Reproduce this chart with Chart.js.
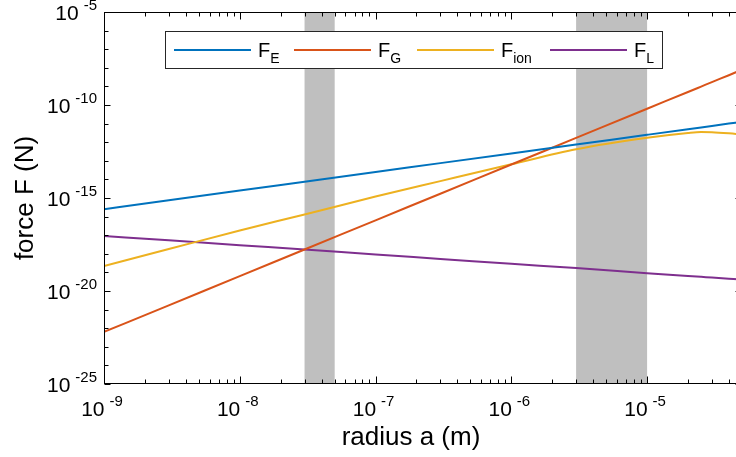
<!DOCTYPE html>
<html>
<head>
<meta charset="utf-8">
<script src="https://cdn.jsdelivr.net/npm/chart.js@4/dist/chart.umd.min.js"></script>
<style>
  html, body { margin: 0; padding: 0; background: #fff; overflow: hidden; }
  #wrap { width: 750px; height: 457px; }
</style>
</head>
<body>
<div id="wrap"><canvas id="grafico" width="750" height="457"></canvas></div>
<script>
// raios (m) onde as forças foram lidas
const raios = [1e-9, 3e-9, 1e-8, 3e-8, 1e-7, 3e-7, 1e-6, 3e-6, 1e-5, 2e-5, 2.5e-5, 3e-5, 4e-5, 5e-5];

// forças (N)
const forcaE   = [2.5e-16, 7.5e-16, 2.5e-15, 7.5e-15, 2.5e-14, 7.5e-14, 2.5e-13, 7.5e-13, 2.5e-12, 5.0e-12, 6.25e-12, 7.5e-12, 1.0e-11, 1.25e-11];
const forcaG   = [6.3e-23, 1.7e-21, 6.3e-20, 1.7e-18, 6.3e-17, 1.7e-15, 6.3e-14, 1.7e-12, 6.3e-11, 5.0e-10, 9.8e-10, 1.7e-9, 4.0e-9, 7.9e-9];
const forcaIon = [2.2e-19, 1.8e-18, 1.8e-17, 1.3e-16, 1.2e-15, 8.1e-15, 6.5e-14, 4.2e-13, 1.74e-12, 3.16e-12, 3.55e-12, 3.47e-12, 3.0e-12, 2.57e-12];
const forcaL   = [9.1e-18, 5.3e-18, 2.9e-18, 1.7e-18, 9.1e-19, 5.3e-19, 2.9e-19, 1.7e-19, 9.1e-20, 6.4e-20, 5.76e-20, 5.3e-20, 4.6e-20, 4.1e-20];

// faixas sombreadas em raio
const faixas = [[3e-8, 5e-8], [3e-6, 1e-5]];

// expoentes das marcas com rótulo
const expoentesX = [-9, -8, -7, -6, -5];
const expoentesY = [-25, -20, -15, -10, -5];

const series = [
    { nome: "F", sub: "E",   dados: forcaE,   cor: "#0072BD" },
    { nome: "F", sub: "G",   dados: forcaG,   cor: "#D95319" },
    { nome: "F", sub: "ion", dados: forcaIon, cor: "#EDB120" },
    { nome: "F", sub: "L",   dados: forcaL,   cor: "#7E2F8E" }
];

const fonte = '"Liberation Sans", Arial, Helvetica, sans-serif';

function escreverPotencia(ctx, x, y, expoente, alinhamento) {
    ctx.font = "21px " + fonte;
    let w10 = ctx.measureText("10").width;
    ctx.font = "15px " + fonte;
    let wExp = ctx.measureText(String(expoente)).width;
    let gap = 5;
    let total = w10 + gap + wExp;
    let inicio = alinhamento === "centro" ? x - total / 2 : x - total;
    ctx.textAlign = "left";
    ctx.textBaseline = "alphabetic";
    ctx.fillStyle = "#000";
    ctx.font = "21px " + fonte;
    ctx.fillText("10", inicio, y);
    ctx.font = "15px " + fonte;
    ctx.fillText(String(expoente), inicio + w10 + gap, y - 10);
}

const eixosMatlab = {
    id: "eixosMatlab",
    beforeDatasetsDraw(chart) {
        let { ctx, chartArea: a, scales: { x } } = chart;
        ctx.save();
        ctx.fillStyle = "#BFBFBF";
        faixas.forEach(([ini, fim]) => {
            let x0 = x.getPixelForValue(ini);
            let x1 = x.getPixelForValue(fim);
            ctx.fillRect(x0, a.top, x1 - x0, a.bottom - a.top);
        });
        ctx.restore();
    },
    afterDatasetsDraw(chart) {
        let { ctx, chartArea: a, scales: { x, y } } = chart;
        ctx.save();

        // caixa dos eixos
        ctx.strokeStyle = "#000";
        ctx.lineWidth = 1;
        let L = Math.round(a.left) + 0.5, R = Math.round(a.right) - 0.5;
        let T = Math.round(a.top) + 0.5, B = Math.round(a.bottom) - 0.5;
        ctx.strokeRect(L, T, R - L, B - T);

        // marcas do eixo x (maiores nas décadas)
        ctx.beginPath();
        for (let d = -9; d <= -5; d++) {
            for (let k = 1; k <= 9; k++) {
                let v = k * Math.pow(10, d);
                if (v > x.max * 1.0001) break;
                let px = Math.round(x.getPixelForValue(v)) + 0.5;
                let len = k === 1 ? 7 : 4;
                ctx.moveTo(px, B); ctx.lineTo(px, B - len);
                ctx.moveTo(px, T); ctx.lineTo(px, T + len);
            }
        }
        // marcas do eixo y
        for (let d = -25; d <= -5; d++) {
            let py = Math.round(y.getPixelForValue(Math.pow(10, d))) + 0.5;
            let len = d % 5 === 0 ? 6 : 4;
            ctx.moveTo(L, py); ctx.lineTo(L + len, py);
            ctx.moveTo(R, py); ctx.lineTo(R - len, py);
        }
        ctx.stroke();

        // rótulos
        expoentesX.forEach(e => {
            escreverPotencia(ctx, x.getPixelForValue(Math.pow(10, e)) - 2, a.bottom + 32, e, "centro");
        });
        expoentesY.forEach(e => {
            escreverPotencia(ctx, a.left - 7, y.getPixelForValue(Math.pow(10, e)) + 8, e, "direita");
        });

        // títulos dos eixos
        ctx.fillStyle = "#000";
        ctx.font = "26px " + fonte;
        ctx.textAlign = "center";
        ctx.textBaseline = "alphabetic";
        ctx.fillText("radius a (m)", 411, 445);
        ctx.translate(33, (a.top + a.bottom) / 2);
        ctx.rotate(-Math.PI / 2);
        ctx.fillText("force F (N)", 0, 0);
        ctx.restore();

        // legenda
        ctx.save();
        let lx = 165.5, ly = 31.5, lw = 497, lh = 37;
        ctx.fillStyle = "#fff";
        ctx.fillRect(lx, ly, lw, lh);
        ctx.strokeStyle = "#262626";
        ctx.lineWidth = 1;
        ctx.strokeRect(lx, ly, lw, lh);
        let posicoes = [174, 294, 417, 550];
        series.forEach((s, i) => {
            let x0 = posicoes[i];
            ctx.strokeStyle = s.cor;
            ctx.lineWidth = 2;
            ctx.beginPath();
            ctx.moveTo(x0, 50); ctx.lineTo(x0 + 77, 50);
            ctx.stroke();
            ctx.fillStyle = "#000";
            ctx.textAlign = "left";
            ctx.font = "20px " + fonte;
            ctx.fillText(s.nome, x0 + 84, 57);
            let wF = ctx.measureText(s.nome).width;
            ctx.font = "14px " + fonte;
            ctx.fillText(s.sub, x0 + 84 + wF, 63);
        });
        ctx.restore();
    }
};

let ctx = document.getElementById("grafico").getContext("2d");
window.myChart = new Chart(ctx, {
    type: "line",
    data: {
        datasets: series.map(s => ({
            label: s.nome + s.sub,
            data: raios.map((r, i) => ({ x: r, y: s.dados[i] })),
            borderColor: s.cor,
            backgroundColor: s.cor,
            borderWidth: 2,
            pointRadius: 0,
            fill: false,
            cubicInterpolationMode: "monotone"
        }))
    },
    options: {
        responsive: false,
        animation: false,
        devicePixelRatio: 1,
        layout: { padding: { left: 104, top: 12, right: 8, bottom: 73 } },
        scales: {
            x: { type: "logarithmic", min: 1e-9, max: 5e-5, display: false },
            y: { type: "logarithmic", min: 1e-25, max: 1e-5, display: false }
        },
        plugins: {
            legend: { display: false },
            tooltip: { enabled: false }
        }
    },
    plugins: [eixosMatlab]
});
</script>
</body>
</html>
